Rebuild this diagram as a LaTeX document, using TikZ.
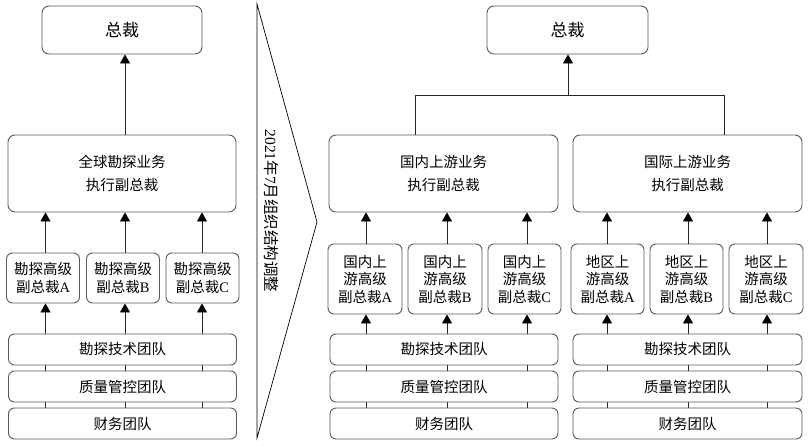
\documentclass[tikz,border=0pt]{standalone}
\usepackage{fontspec}
\setmainfont{Liberation Serif}
\newfontfamily\cjk{Noto Sans CJK SC}
\usetikzlibrary{arrows.meta,backgrounds}
\begin{document}
\begin{tikzpicture}[x=1pt,y=-1pt,
  box/.style={draw=black!65, line width=0.9pt, rounded corners=7pt, fill=white,
    align=center, inner sep=0pt, font=\fontsize{14.5}{17.5}\selectfont\cjk},
  ceobox/.style={box, minimum width=160pt, minimum height=48pt, font=\fontsize{17}{20}\selectfont\cjk},
  execbox/.style={box, minimum width=228pt, minimum height=77pt, font=\fontsize{14.5}{23}\selectfont\cjk},
  teambox/.style={box, minimum width=228pt, minimum height=31pt, rounded corners=6pt},
  svpbox/.style={box, minimum width=73pt, rounded corners=6pt},
  line/.style={draw=black!85, line width=0.8pt},
  arr/.style={line, -{Triangle[width=10pt,length=9pt,fill=black,color=black]}},
]
\useasboundingbox (0,0) rectangle (810,446);

% ---------- left panel ----------
\node[ceobox] (lceo) at (122,30) {总裁};
\node[execbox] (lexec) at (122,173.5) {全球勘探业务\\执行副总裁};
\node[svpbox, minimum height=50pt] (lsa) at (43,278) {勘探高级\\副总裁{\rmfamily A}};
\node[svpbox, minimum height=50pt] (lsb) at (123,278) {勘探高级\\副总裁{\rmfamily B}};
\node[svpbox, minimum height=50pt] (lsc) at (202.5,278) {勘探高级\\副总裁{\rmfamily C}};
\node[teambox] (ltech) at (122.5,349.5) {勘探技术团队};
\node[teambox] (lqual) at (122.5,386.5) {质量管控团队};
\node[teambox] (lfin) at (122.5,423.5) {财务团队};

\coordinate (lx1) at (45.5,0);
\coordinate (lx2) at (125,0);
\coordinate (lx3) at (202,0);

\draw[arr] (lexec.north -| lx2) -- (lceo.south -| lx2);
\foreach \c/\s in {lx1/lsa, lx2/lsb, lx3/lsc} {
  \draw[arr] (\s.north -| \c) -- (lexec.south -| \c);
}
\begin{scope}[on background layer]
\foreach \c/\s in {lx1/lsa, lx2/lsb, lx3/lsc} {
  \draw[arr] (lfin.north -| \c) -- (\s.south -| \c);
}
\end{scope}

% ---------- separator ----------
\coordinate (st) at (257,4);
\coordinate (sp) at (317,222);
\coordinate (sb) at (257,438);
\draw[black, line width=0.7pt] (st) -- (sp) -- (sb) -- cycle;
\node[rotate=-90, inner sep=0pt, font=\fontsize{15.5}{18}\selectfont] (sep) at (271,211)
  {2021{\cjk 年}7{\cjk 月组织结构调整}};

% ---------- right panel ----------
\node[ceobox, minimum width=161pt] (rceo) at (567.5,30) {总裁};
\node[execbox, minimum width=229pt] (rdom) at (443.5,173.5) {国内上游业务\\执行副总裁};
\node[execbox, minimum width=229pt] (rint) at (687.5,173.5) {国际上游业务\\执行副总裁};

\node[svpbox, minimum height=70pt, minimum width=74pt] (rsa) at (365,279) {国内上\\游高级\\副总裁{\rmfamily A}};
\node[svpbox, minimum height=70pt, minimum width=74pt] (rsb) at (445,279) {国内上\\游高级\\副总裁{\rmfamily B}};
\node[svpbox, minimum height=70pt] (rsc) at (524.5,279) {国内上\\游高级\\副总裁{\rmfamily C}};
\node[svpbox, minimum height=70pt] (rsd) at (607.5,279) {地区上\\游高级\\副总裁{\rmfamily A}};
\node[svpbox, minimum height=70pt] (rse) at (686.5,279) {地区上\\游高级\\副总裁{\rmfamily B}};
\node[svpbox, minimum height=70pt, minimum width=74pt] (rsf) at (766,279) {地区上\\游高级\\副总裁{\rmfamily C}};

\node[teambox] (rtech1) at (444,349.5) {勘探技术团队};
\node[teambox] (rqual1) at (444,386.5) {质量管控团队};
\node[teambox] (rfin1) at (444,423.5) {财务团队};
\node[teambox, minimum width=229pt] (rtech2) at (687.5,349.5) {勘探技术团队};
\node[teambox, minimum width=229pt] (rqual2) at (687.5,386.5) {质量管控团队};
\node[teambox, minimum width=229pt] (rfin2) at (687.5,423.5) {财务团队};

\coordinate (jl) at (415,95);
\coordinate (jm) at (568,95);
\coordinate (jr) at (724,95);
\draw[line] (rdom.north -| jl) -- (jl) -- (jr) -- (rint.north -| jr);
\draw[arr] (jm) -- (rceo.south -| jm);

\coordinate (rx1) at (366,0);
\coordinate (rx2) at (447,0);
\coordinate (rx3) at (527,0);
\coordinate (rx4) at (607,0);
\coordinate (rx5) at (688,0);
\coordinate (rx6) at (767,0);

\foreach \c/\s in {rx1/rsa, rx2/rsb, rx3/rsc} {
  \draw[arr] (\s.north -| \c) -- (rdom.south -| \c);
}
\foreach \c/\s in {rx4/rsd, rx5/rse, rx6/rsf} {
  \draw[arr] (\s.north -| \c) -- (rint.south -| \c);
}
\begin{scope}[on background layer]
\foreach \c/\s in {rx1/rsa, rx2/rsb, rx3/rsc} {
  \draw[arr] (rfin1.north -| \c) -- (\s.south -| \c);
}
\foreach \c/\s in {rx4/rsd, rx5/rse, rx6/rsf} {
  \draw[arr] (rfin2.north -| \c) -- (\s.south -| \c);
}
\end{scope}
\end{tikzpicture}
\end{document}
